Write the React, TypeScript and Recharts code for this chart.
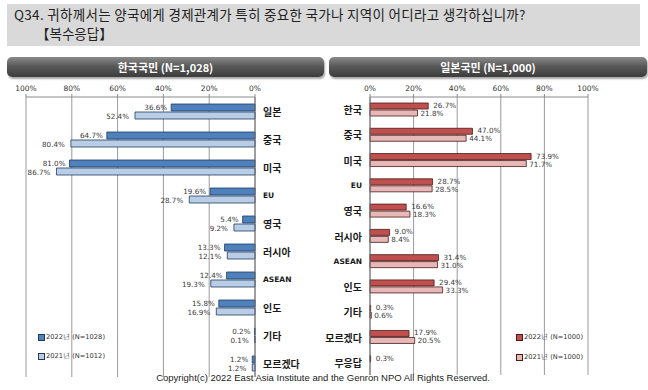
import React from 'react';
import { BarChart, Bar, XAxis, YAxis, CartesianGrid, LabelList } from 'recharts';

// 한국국민 응답
const krCategories = ['일본', '중국', '미국', 'EU', '영국', '러시아', 'ASEAN', '인도', '기타', '모르겠다'];
const kr2022 = [36.6, 64.7, 81.0, 19.6, 5.4, 13.3, 12.4, 15.8, 0.2, 1.2];
const kr2021 = [52.4, 80.4, 86.7, 28.7, 9.2, 12.1, 19.3, 16.9, 0.1, 1.2];

// 일본국민 응답
const jpCategories = ['한국', '중국', '미국', 'EU', '영국', '러시아', 'ASEAN', '인도', '기타', '모르겠다', '무응답'];
const jp2022 = [26.7, 47.0, 73.9, 28.7, 16.6, 9.0, 31.4, 29.4, 0.3, 17.9, 0.3];
const jp2021 = [21.8, 44.1, 71.7, 28.5, 18.3, 8.4, 31.0, 33.3, 0.6, 20.5, null];

const pctTicks = [0, 20, 40, 60, 80, 100];

const krData = krCategories.map((name, i) => ({ name, y2022: kr2022[i], y2021: kr2021[i] }));
const jpData = jpCategories.map((name, i) => ({ name, y2022: jp2022[i], y2021: jp2021[i] }));
const krBounds = krCategories.map((_, i) => i).concat([krCategories.length]);
const jpBounds = jpCategories.map((_, i) => i).concat([jpCategories.length]);

const NUM_FONT = 'DejaVu Sans';
const KO_FONT = '"Noto Sans CJK KR", sans-serif';

const makeLabel = (side: 'left' | 'right', offset: number, dy: number) => (props: any) => {
  const { x, y, width, height, value } = props;
  if (value == null) return null;
  const x0 = Number(x);
  const w = Number(width);
  const lo = Math.min(x0, x0 + w);
  const hi = Math.max(x0, x0 + w);
  const cy = Number(y) + Number(height) / 2 + dy;
  return (
    <text
      x={side === 'left' ? lo - offset : hi + offset}
      y={cy}
      textAnchor={side === 'left' ? 'end' : 'start'}
      dominantBaseline="central"
      fontSize={7.2}
      fontFamily={NUM_FONT}
      fill="#3a3a3a"
    >
      {Number(value).toFixed(1)}%
    </text>
  );
};

const CatTick = ({ x, y, payload, textAnchor }: any) => {
  const v = String(payload.value);
  const latin = /^[A-Za-z]+$/.test(v);
  return (
    <text
      x={x}
      y={y}
      textAnchor={textAnchor}
      dominantBaseline="central"
      fontFamily={latin ? NUM_FONT : KO_FONT}
      fontWeight="bold"
      fontSize={latin ? 7.5 : 10}
      fill="#1a1a1a"
    >
      {v}
    </text>
  );
};

const Header = ({ left, width, text }: { left: number; width: number; text: string }) => (
  <div
    style={{
      position: 'absolute',
      left,
      top: 57,
      width,
      height: 20,
      borderRadius: 5,
      background: 'linear-gradient(#8a8a8a 0%, #5a5a5a 45%, #3c3c3c 100%)',
      boxShadow: '1px 2px 2px rgba(0,0,0,0.35)',
      color: '#fff',
      fontFamily: KO_FONT,
      fontWeight: 'bold',
      fontSize: 11,
      lineHeight: '20px',
      textAlign: 'center',
    }}
  >
    {text}
  </div>
);

const LegendItem = ({ left, top, fill, stroke, text }: any) => (
  <div style={{ position: 'absolute', left, top, display: 'flex', alignItems: 'center', fontSize: 6.7, fontFamily: NUM_FONT, color: '#333' }}>
    <span style={{ display: 'inline-block', width: 5, height: 5, background: fill, border: `1px solid ${stroke}`, marginRight: 1 }} />
    <span>{text}</span>
  </div>
);

const tickStyle = { fontSize: 7.5, fontFamily: NUM_FONT, fill: '#333' };

export default function App() {
  return (
    <div style={{ position: 'absolute', left: 0, top: 0, width: 648, height: 390, background: '#fff', overflow: 'hidden' }}>
      {/* 질문 */}
      <div style={{ position: 'absolute', left: 7, top: 4, width: 633, height: 42, background: '#d9d9d9' }} />
      <div style={{ position: 'absolute', left: 14, top: 4, fontFamily: KO_FONT, fontSize: 13.5, letterSpacing: 0.3, color: '#222', whiteSpace: 'nowrap' }}>
        Q34. 귀하께서는 양국에게 경제관계가 특히 중요한 국가나 지역이 어디라고 생각하십니까?
      </div>
      <div style={{ position: 'absolute', left: 36, top: 23, fontFamily: KO_FONT, fontSize: 13.5, color: '#222' }}>【복수응답】</div>

      <Header left={7} width={317} text="한국국민 (N=1,028)" />
      <Header left={329} width={318} text="일본국민 (N=1,000)" />

      {/* 한국국민 */}
      <div style={{ position: 'absolute', left: 0, top: 75 }}>
        <BarChart width={330} height={310} data={krData} layout="vertical" margin={{ top: 0, right: 5, bottom: 8, left: 26 }} barSize={7} barGap={1}>
          <CartesianGrid horizontal={false} stroke="#9a9a9a" />
          <XAxis
            type="number"
            domain={[0, 100]}
            ticks={pctTicks}
            reversed
            orientation="top"
            height={22}
            tickSize={3}
            tickMargin={3}
            tickFormatter={(v: number) => `${v}%`}
            tick={tickStyle}
            axisLine={{ stroke: '#8a8a8a' }}
            tickLine={{ stroke: '#8a8a8a' }}
            interval={0}
          />
          <YAxis yAxisId="g" type="number" orientation="right" domain={[0, krCategories.length]} ticks={krBounds} width={0} axisLine={false} tick={false} tickSize={4} tickLine={{ stroke: '#8a8a8a' }} />
          <YAxis dataKey="name" type="category" orientation="right" width={70} axisLine={{ stroke: '#707070' }} tickLine={false} tickSize={6} tickMargin={2} tick={<CatTick />} interval={0} />
          <Bar dataKey="y2022" fill="#4f81bd" stroke="#1f3b63" strokeWidth={0.8} isAnimationActive={false}>
            <LabelList dataKey="y2022" content={makeLabel('left', 4, -0.5)} />
          </Bar>
          <Bar dataKey="y2021" fill="#b9cde5" stroke="#1f3b63" strokeWidth={0.8} isAnimationActive={false}>
            <LabelList dataKey="y2021" content={makeLabel('left', 6, 1)} />
          </Bar>
        </BarChart>
      </div>

      {/* 일본국민 */}
      <div style={{ position: 'absolute', left: 320, top: 75 }}>
        <BarChart width={328} height={310} data={jpData} layout="vertical" margin={{ top: 0, right: 60, bottom: 10, left: 0 }} barSize={6} barGap={1}>
          <CartesianGrid horizontal={false} stroke="#9a9a9a" />
          <XAxis
            type="number"
            domain={[0, 100]}
            ticks={pctTicks}
            orientation="top"
            height={22}
            tickSize={3}
            tickMargin={3}
            tickFormatter={(v: number) => `${v}%`}
            tick={tickStyle}
            axisLine={{ stroke: '#8a8a8a' }}
            tickLine={{ stroke: '#8a8a8a' }}
            interval={0}
          />
          <YAxis yAxisId="g" type="number" orientation="left" domain={[0, jpCategories.length]} ticks={jpBounds} width={0} axisLine={false} tick={false} tickSize={4} tickLine={{ stroke: '#8a8a8a' }} />
          <YAxis dataKey="name" type="category" orientation="left" width={50} axisLine={{ stroke: '#707070' }} tickLine={false} tickSize={6} tickMargin={2} tick={<CatTick />} interval={0} />
          <Bar dataKey="y2022" fill="#c0504d" stroke="#4a1a19" strokeWidth={0.8} isAnimationActive={false}>
            <LabelList dataKey="y2022" content={makeLabel('right', 5, -0.5)} />
          </Bar>
          <Bar dataKey="y2021" fill="#e6b9b8" stroke="#4a1a19" strokeWidth={0.8} isAnimationActive={false}>
            <LabelList dataKey="y2021" content={makeLabel('right', 3, 0.5)} />
          </Bar>
        </BarChart>
      </div>

      <LegendItem left={38} top={333} fill="#4f81bd" stroke="#1f3b63" text="2022년 (N=1028)" />
      <LegendItem left={38} top={352} fill="#b9cde5" stroke="#1f3b63" text="2021년 (N=1012)" />
      <LegendItem left={516} top={333} fill="#c0504d" stroke="#4a1a19" text="2022년 (N=1000)" />
      <LegendItem left={516} top={353} fill="#e6b9b8" stroke="#4a1a19" text="2021년 (N=1000)" />

      <div style={{ position: 'absolute', left: 0, width: 646, top: 372, textAlign: 'center', fontFamily: '"Liberation Sans", Arial, sans-serif', fontSize: 9.5, color: '#222' }}>
        Copyright(c) 2022 East Asia Institute and the Genron NPO All Rights Reserved.
      </div>
    </div>
  );
}
